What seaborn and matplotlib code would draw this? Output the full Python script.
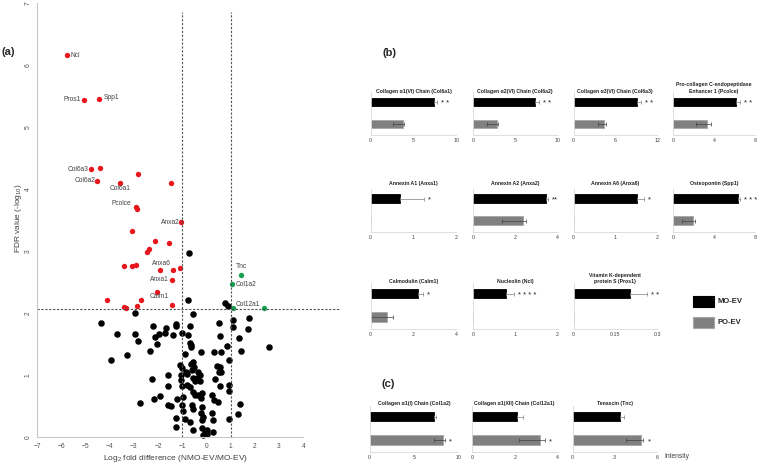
import matplotlib
matplotlib.use('Agg')
import matplotlib.pyplot as plt
from matplotlib.patches import Rectangle
import pandas as pd
import seaborn as sns

sns.set_style('white')
plt.rcParams['font.family'] = ['Liberation Sans', 'DejaVu Sans']
plt.rcParams['mathtext.default'] = 'regular'

W, H = 760, 466

# ---------------- volcano plot data ----------------
red_x = [-5.78, -5.05, -4.46, -4.77, -4.39, -4.52, -3.59, -2.82, -1.47, -2.93, -2.88,
         -1.04, -3.07, -2.13, -1.54, -2.38, -2.46, -3.42, -3.07, -2.93, -1.93, -1.38,
         -1.10, -1.44, -2.05, -4.10, -2.71, -3.40, -3.33, -2.86, -1.44]
red_y = [6.16, 5.44, 5.46, 4.32, 4.34, 4.14, 4.10, 4.24, 4.10, 3.72, 3.68,
         3.47, 3.32, 3.16, 3.13, 3.03, 2.99, 2.77, 2.76, 2.78, 2.70, 2.70,
         2.73, 2.54, 2.34, 2.21, 2.22, 2.10, 2.08, 2.12, 2.13]
red_lab = ['Ncl', 'Pros1', 'Spp1', 'Col6a3', '', 'Col6a2', 'Col6a1', '', '', 'Pcolce', '',
           'Anxa2', '', '', '', '', '', '', '', '', 'Anxa6', '',
           '', 'Anxa1', 'Calm1', '', '', '', '', '', '']

green_x = [1.41, 1.04, 1.08, 2.38]
green_y = [2.61, 2.48, 2.09, 2.09]
green_lab = ['Tnc', 'Col1a2', 'Col12a1', '']

black_x = [-2.95, -4.36, -2.22, -1.69, -3.71, -2.94, -1.95, -1.40, -2.13, -1.71, -2.83,
           -2.05, -2.35, -3.27, -3.95, -1.58, -2.25, -1.60, -1.91, -2.18, -2.76, -1.60,
           -1.47, -1.24, -1.24,
           -0.75, -0.74, 0.78, 0.91, -0.57, -1.27, -1.26, -0.68, 0.53, 1.11, 1.76, 1.11,
           1.70, -1.02, -0.78, 0.56, 1.34, -0.68, -0.65, -0.64, -0.89, -0.24, 0.32, 0.59,
           0.86, 1.43, 2.57, 0.94, -0.57, -0.65, -0.52, -0.61, -1.10, -1.02, -1.07, -0.85,
           -0.82, -0.34, -0.27, 0.43, 0.56, 0.53, 0.60, 0.34, 0.56, 0.93, 0.93, -0.55,
           -0.48, -0.40, -0.27, -0.79, -0.68, -1.05, -1.02, -0.55, -0.48, -0.34, -0.20,
           -0.23, -1.23, -0.96, 0.21, 0.31, 0.49, -1.02, -0.98, -0.61, -0.55, -0.20,
           -0.23, -0.13, -0.20, 0.23, 0.28, 1.38, 1.31, -0.89, -0.68, 0.94, -0.55, -0.20,
           -0.06, 0.01, -0.13, 0.03, 0.28]
black_y = [2.01, 1.85, 1.79, 1.77, 1.66, 1.66, 1.66, 1.65, 1.61, 1.69, 1.56,
           1.50, 1.39, 1.33, 1.24, 1.00, 0.94, 0.82, 0.66, 0.62, 0.56, 0.52,
           0.50, 0.31, 0.17,
           2.21, 2.98, 2.17, 2.11, 1.99, 1.83, 1.80, 1.80, 1.84, 1.89, 1.92, 1.78,
           1.75, 1.69, 1.65, 1.64, 1.60, 1.52, 1.49, 1.45, 1.34, 1.37, 1.38, 1.38,
           1.48, 1.40, 1.46, 1.25, 1.22, 1.18, 1.14, 1.09, 1.16, 1.12, 1.00, 1.06,
           1.02, 1.05, 1.00, 1.15, 1.14, 1.05, 1.06, 0.94, 0.83, 0.84, 0.74, 0.95,
           0.91, 0.95, 0.91, 0.85, 0.81, 0.92, 0.82, 0.73, 0.68, 0.68, 0.71,
           0.63, 0.62, 0.65, 0.68, 0.60, 0.57, 0.52, 0.42, 0.52, 0.46, 0.49,
           0.40, 0.33, 0.28, 0.39, 0.28, 0.54, 0.37, 0.30, 0.25, 0.30, 0.12, 0.15,
           0.09, 0.06, 0.04, 0.12, 0.09]

fdr_cut = 2.07
fc_cut = [-1, 1]

# ---------------- bar chart data (b) ----------------
b_titles = ['Collagen α1(VI) Chain (Col6a1)', 'Collagen α2(VI) Chain (Col6a2)',
            'Collagen α3(VI) Chain (Col6a3)', 'Pro-collagen C-endopeptidase\nEnhancer 1 (Pcolce)',
            'Annexin A1 (Anxa1)', 'Annexin A2 (Anxa2)', 'Annexin A6 (Anxa6)', 'Osteopontin (Spp1)',
            'Calmodulin (Calm1)', 'Nucleolin (Ncl)', 'Vitamin K-dependent\nprotein S (Pros1)']
b_mo = [7.34, 7.31, 9.13, 6.14, 0.68, 3.44, 1.51, 6.38, 2.20, 0.78, 0.202]
b_mo_err = [0.4, 0.45, 0.5, 0.4, 0.57, 0.1, 0.17, 0.2, 0.24, 0.2, 0.063]
b_po = [3.75, 2.8, 4.45, 3.36, 0, 2.37, 0, 1.94, 0.78, 0, 0]
b_po_lo = [1.1, 1.1, 0.95, 1.08, 0, 1.0, 0, 1.07, 0.78, 0, 0]
b_po_hi = [0.2, 0.2, 0.25, 0.3, 0, 0.13, 0, 0.16, 0.28, 0, 0]
b_xmax = [10, 10, 12, 8, 2, 4, 2, 8, 4, 2, 0.3]
b_stars = ['* *', '* *', '* *', '* *', '*', '**', '*', '* * *', '*', '* * * *', '* *']

# ---------------- bar chart data (c) ----------------
c_titles = ['Collagen α1(I) Chain (Col1a2)', 'Collagen α1(XII) Chain (Col12a1)', 'Tenascin (Tnc)']
c_mo = [7.27, 2.09, 3.36]
c_mo_err = [0.2, 0.3, 0.3]
c_po = [8.24, 3.18, 4.85]
c_po_lo = [0.97, 0.96, 1.08]
c_po_hi = [0.26, 0.23, 0.19]
c_xmax = [10, 4, 6]
c_stars = ['*', '*', '*']

groups = ['MO-EV', 'PO-EV']
RED, GREEN, GREY = '#e8161d', '#14a04e', '#808080'


def rect(l, t, r, b):
    return [l / W, 1 - b / H, (r - l) / W, (b - t) / H]


fig = plt.figure(figsize=(W / 100, H / 100), dpi=100)

# ---------------- (a) volcano ----------------
ax = fig.add_axes(rect(37.1, 3.3, 341, 437.3))
sns.scatterplot(x=black_x, y=black_y, color='black', s=22, linewidth=0, ax=ax, clip_on=False)
sns.scatterplot(x=red_x, y=red_y, color=RED, s=15, linewidth=0, ax=ax, clip_on=False)
sns.scatterplot(x=green_x, y=green_y, color=GREEN, s=15, linewidth=0, ax=ax, clip_on=False)
ax.set_xlim(-7, 5.56)
ax.set_ylim(0, 7)
ax.set_xticks(range(-7, 5))
ax.set_yticks(range(0, 8))
ax.spines['bottom'].set_bounds(-7, 4)
for s in ['top', 'right']:
    ax.spines[s].set_visible(False)
for s in ['left', 'bottom']:
    ax.spines[s].set_color('#c8c8c8')
    ax.spines[s].set_linewidth(0.8)
ax.axhline(fdr_cut, ls=(0, (2, 1.5)), color='#505050', lw=0.8)
ax.vlines(fc_cut, 0, 6.86, linestyles=(0, (2, 1.5)), colors='#505050', lw=0.8)
ax.tick_params(labelsize=4.8, colors='#505050', length=2, width=0.5, pad=2)
for t in ax.get_yticklabels():
    t.set_rotation(90)
    t.set_va('center')

lab_pos = {'Ncl': (4, 0, 'left'), 'Pros1': (-4, 1, 'right'), 'Spp1': (5, 1, 'left'),
           'Col6a3': (-3, 0, 'right'), 'Col6a2': (-2, 0, 'right'), 'Col6a1': (0, -5, 'center'),
           'Pcolce': (-4, 3, 'right'), 'Anxa2': (-2, 0, 'right'), 'Anxa6': (2, 6, 'center'),
           'Anxa1': (-3, 0, 'right'), 'Calm1': (2, -4.5, 'center'), 'Tnc': (1, 9, 'center'),
           'Col1a2': (4, -1, 'left'), 'Col12a1': (3, 3, 'left')}
for xs, ys, labs in [(red_x, red_y, red_lab), (green_x, green_y, green_lab)]:
    for x, y, lab in zip(xs, ys, labs):
        if lab:
            dx, dy, ha = lab_pos[lab]
            ax.annotate(lab, (x, y), xytext=(dx, dy), textcoords='offset pixels',
                        ha=ha, va='center', fontsize=4.8, color='#404040')

fig.text(176 / W, 1 - 458 / H, r'Log$_2$ fold difference (NMO-EV/MO-EV)', ha='center', va='center',
         fontsize=6, color='#404040')
fig.text(18 / W, 1 - 218 / H, r'FDR value (-log$_{10}$)', ha='center', va='center', rotation=90,
         fontsize=6, color='#404040')
fig.text(2 / W, 1 - 52 / H, '(a)', fontsize=8, fontweight='bold', va='center')
fig.text(383 / W, 1 - 53 / H, '(b)', fontsize=8, fontweight='bold', va='center')
fig.text(381.5 / W, 1 - 384 / H, '(c)', fontsize=8, fontweight='bold', va='center')


def bar_panel(box, title, mo, mo_err, po, po_lo, po_hi, xmax, star, star_on_po, title_y):
    a = fig.add_axes(rect(*box))
    sns.barplot(x=[mo, po], y=groups, hue=groups, palette=['black', GREY], width=0.4,
                orient='h', legend=False, ax=a, linewidth=0.6)
    for p, ec in zip(a.patches, ['black', '#a6a6a6']):
        p.set_edgecolor(ec)
    eb = a.errorbar(mo, 0, xerr=[[0], [mo_err]], fmt='none', ecolor='#808080',
                    elinewidth=0.5, capsize=1.3, capthick=0.5)
    if po > 0:
        a.errorbar(po, 1, xerr=[[po_lo], [po_hi]], fmt='none', ecolor='#404040',
                   elinewidth=0.5, capsize=1.3, capthick=0.5)
    if star_on_po:
        a.annotate(star, (po + po_hi, 1), xytext=(4, -1.5), textcoords='offset pixels',
                   ha='left', va='center', fontsize=5.5, color='#202020')
    else:
        a.annotate(star, (mo + mo_err, 0), xytext=(4, -1.5), textcoords='offset pixels',
                   ha='left', va='center', fontsize=5.5, color='#202020')
    a.set_xlim(0, xmax)
    a.set_ylim(1.5, -0.45)
    a.set_xticks([0, xmax / 2, xmax])
    a.set_xticklabels(['{:g}'.format(v) for v in [0, xmax / 2, xmax]])
    a.set_yticks([])
    a.set_xlabel('')
    a.set_ylabel('')
    for s in ['top', 'right']:
        a.spines[s].set_visible(False)
    for s in ['left', 'bottom']:
        a.spines[s].set_color('#d9d9d9')
        a.spines[s].set_linewidth(0.6)
    a.tick_params(labelsize=3.8, colors='#404040', length=0, pad=2.5)
    cx = (box[0] + box[2]) / 2
    fig.text(cx / W, 1 - title_y / H, title, ha='center', va='bottom', fontsize=3.7,
             fontweight='bold', color='#202020', linespacing=1.3)
    return a


col_l = [370.5, 473, 573.5, 673]
col_r = [456.5, 557.5, 657, 755]
rows = [(92, 135, 93.5), (188.5, 232, 186.5), (283, 329, 284.5)]

for i in range(len(b_titles)):
    r, c = divmod(i, 4)
    top, bot, ty = rows[r]
    bar_panel((col_l[c], top, col_r[c], bot), b_titles[i], b_mo[i], b_mo_err[i], b_po[i],
              b_po_lo[i], b_po_hi[i], b_xmax[i], b_stars[i], False, ty)

for i in range(len(c_titles)):
    bar_panel((col_l[i] - 1, 406.5, col_r[i] + (2 if i == 0 else 0), 451.5), c_titles[i], c_mo[i],
              c_mo_err[i], c_po[i], c_po_lo[i], c_po_hi[i], c_xmax[i], c_stars[i], True, 406)

fig.text(664 / W, 1 - 456 / H, 'Intensity', fontsize=4.8, color='#404040', va='center')

# legend
for (t, fc, ec, y0) in [('MO-EV', 'black', 'black', 296), ('PO-EV', GREY, '#a6a6a6', 317)]:
    fig.add_artist(Rectangle((693 / W, 1 - (y0 + 11) / H), 21 / W, 11 / H, transform=fig.transFigure,
                             facecolor=fc, edgecolor=ec, lw=0.8))
    fig.text(718 / W, 1 - (y0 + 5.5) / H, t, fontsize=5.5, fontweight='bold', va='center')

fig.savefig('out.png', dpi=100)
